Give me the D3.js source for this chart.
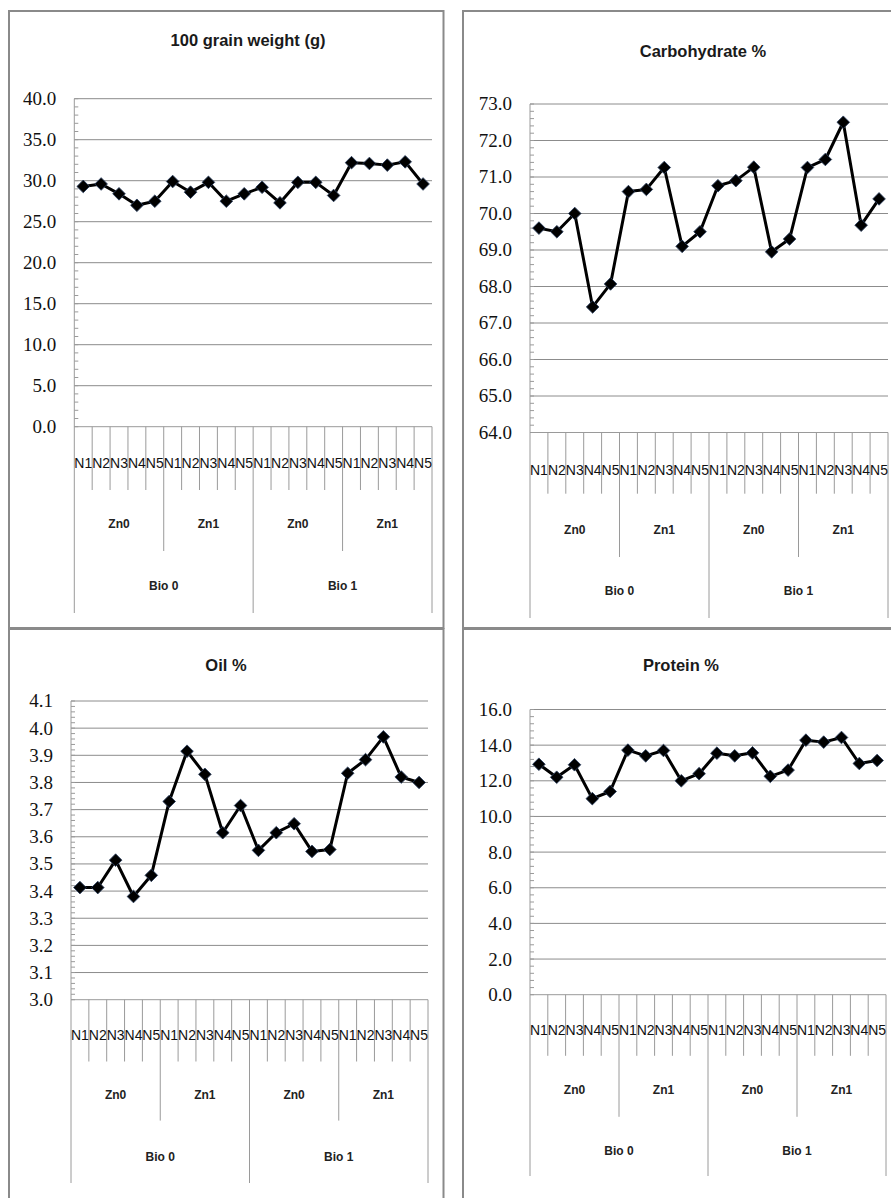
<!DOCTYPE html>
<html>
<head>
<meta charset="utf-8">
<script src="https://cdn.jsdelivr.net/npm/d3@7"></script>
<style>
	body { margin: 0; background: #fff; }
	svg { display: block; }
	.ylab { font-family: 'Liberation Serif', 'DejaVu Serif', serif; font-size: 19px; fill: #111; }
	.nlab { font-family: 'Liberation Sans', Arial, sans-serif; font-size: 14px; fill: #111; }
	.glab { font-family: 'Liberation Sans', Arial, sans-serif; font-size: 12px; font-weight: bold; fill: #222; }
	.title { font-family: 'Liberation Sans', Arial, sans-serif; font-size: 16.5px; font-weight: bold; fill: #1a1a1a; }
</style>
</head>
<body>
<div id="root"></div>
<script>
const nLevels	= ['N1', 'N2', 'N3', 'N4', 'N5'];
const znLevels	= ['Zn0', 'Zn1'];
const bioLevels	= ['Bio 0', 'Bio 1'];

const grainWeight	= [29.3, 29.6, 28.4, 27.0, 27.5, 29.9, 28.6, 29.8, 27.5, 28.4, 29.2, 27.3, 29.8, 29.8, 28.2, 32.2, 32.1, 31.9, 32.3, 29.6];
const carbohydrate	= [69.6, 69.5, 70.0, 67.44, 68.07, 70.6, 70.66, 71.26, 69.1, 69.5, 70.76, 70.9, 71.27, 68.95, 69.3, 71.26, 71.48, 72.5, 69.68, 70.4];
const oil			= [3.413, 3.413, 3.514, 3.38, 3.458, 3.73, 3.915, 3.83, 3.615, 3.715, 3.55, 3.615, 3.648, 3.546, 3.553, 3.834, 3.884, 3.968, 3.82, 3.80];
const protein		= [12.93, 12.2, 12.9, 11.0, 11.4, 13.72, 13.4, 13.7, 12.0, 12.4, 13.55, 13.4, 13.57, 12.25, 12.6, 14.28, 14.17, 14.43, 12.97, 13.14];

const titles	= ['100 grain weight (g)', 'Carbohydrate %', 'Oil %', 'Protein %'];
const yRanges	= [[0, 40, 5], [64, 73, 1], [3.0, 4.1, 0.1], [0, 16, 2]];

// category ids: bio / zn / n
const cats	= [];
bioLevels.forEach((b, bi) => znLevels.forEach((z, zi) => nLevels.forEach((n, ni) => cats.push({ id: bi + '-' + zi + '-' + ni, bi: bi, zi: zi, ni: ni, n: n }))));

// layout of each panel (pixels)
const panels	= [
	{ series: grainWeight, box: [9, 11, 434.5, 617], x0: 74.3, x1: 432, yTop: 98.7, yBot: 426.7, nEnd: 490, znEnd: 551, bioEnd: 613, nLab: 463, znLab: 523.5, bioLab: 585.5, tx: 248, ty: 40 },
	{ series: carbohydrate, box: [463, 11, 440, 617], x0: 530, x1: 888, yTop: 104, yBot: 432.5, nEnd: 493.7, znEnd: 557, bioEnd: 618, nLab: 470, znLab: 530, bioLab: 591, tx: 703, ty: 51.7 },
	{ series: oil, box: [9, 629, 434.5, 600], x0: 71, x1: 428, yTop: 701, yBot: 999.7, nEnd: 1061.5, znEnd: 1120.6, bioEnd: 1183, nLab: 1034.8, znLab: 1095, bioLab: 1156.8, tx: 226, ty: 665.6 },
	{ series: protein, box: [463, 629, 440, 600], x0: 530, x1: 886, yTop: 709.5, yBot: 994.7, nEnd: 1055.8, znEnd: 1116.8, bioEnd: 1176, nLab: 1030, znLab: 1090, bioLab: 1151, tx: 681, ty: 665.6 },
];

const svg	= d3.select('#root').append('svg')
	.attr('width', 891)
	.attr('height', 1198);

panels.forEach((p, i) => drawPanel(p, i));

function drawPanel(p, idx) {
	let g	= svg.append('g').attr('class', 'panel');
	let rng	= yRanges[idx];

	g.append('rect')
		.attr('x', p.box[0]).attr('y', p.box[1])
		.attr('width', p.box[2]).attr('height', p.box[3])
		.attr('fill', '#fff')
		.attr('stroke', '#8a8a8a')
		.attr('stroke-width', 2);

	g.append('text')
		.attr('class', 'title')
		.attr('x', p.tx).attr('y', p.ty)
		.attr('text-anchor', 'middle')
		.attr('dy', '0.35em')
		.text(titles[idx]);

	let x	= d3.scaleBand().domain(cats.map((o) => o.id)).range([p.x0, p.x1]);
	let y	= d3.scaleLinear().domain([rng[0], rng[1]]).range([p.yBot, p.yTop]);

	let nTicks	= Math.round((rng[1] - rng[0]) / rng[2]);
	let major	= d3.range(nTicks + 1).map((k) => rng[0] + k * rng[2]);
	let minor	= d3.range(nTicks * 5 + 1).map((k) => rng[0] + k * rng[2] / 5);

	// gridlines
	g.append('g').selectAll('line').data(major).enter().append('line')
		.attr('x1', p.x0).attr('x2', p.x1)
		.attr('y1', (d) => y(d)).attr('y2', (d) => y(d))
		.attr('stroke', (d, k) => (k == 0 ? '#9a9a9a' : '#8c8c8c'))
		.attr('stroke-width', 1);

	// minor ticks inside the value axis
	g.append('g').selectAll('line').data(minor).enter().append('line')
		.attr('x1', p.x0).attr('x2', p.x0 + 4)
		.attr('y1', (d) => y(d)).attr('y2', (d) => y(d))
		.attr('stroke', '#9a9a9a')
		.attr('stroke-width', 1);

	g.append('g').selectAll('text').data(major).enter().append('text')
		.attr('class', 'ylab')
		.attr('x', p.x0 - 18)
		.attr('y', (d) => y(d))
		.attr('dy', '0.34em')
		.attr('text-anchor', 'end')
		.text((d) => d.toFixed(1));

	// category boundaries, each one reaching down to its level
	let bounds	= d3.range(cats.length + 1).map((k) => {
		let bx	= p.x0 + k * x.bandwidth();
		let end	= (k % 10 == 0) ? p.bioEnd : (k % 5 == 0 ? p.znEnd : p.nEnd);
		return { x: bx, end: end };
	});

	g.append('g').selectAll('line').data(bounds).enter().append('line')
		.attr('x1', (d) => d.x).attr('x2', (d) => d.x)
		.attr('y1', (d, k) => (k == 0 ? p.yTop : p.yBot))
		.attr('y2', (d) => d.end)
		.attr('stroke', '#9a9a9a')
		.attr('stroke-width', 1);

	g.append('g').selectAll('text').data(cats).enter().append('text')
		.attr('class', 'nlab')
		.attr('x', (d) => x(d.id) + x.bandwidth() / 2)
		.attr('y', p.nLab)
		.attr('dy', '0.35em')
		.attr('text-anchor', 'middle')
		.text((d) => d.n);

	let znGroups	= [];
	bioLevels.forEach((b, bi) => znLevels.forEach((z, zi) => znGroups.push({ label: z, ids: cats.filter((o) => o.bi == bi && o.zi == zi).map((o) => o.id) })));
	let bioGroups	= bioLevels.map((b, bi) => ({ label: b, ids: cats.filter((o) => o.bi == bi).map((o) => o.id) }));

	let center	= (ids) => (x(ids[0]) + x(ids[ids.length - 1]) + x.bandwidth()) / 2;

	g.append('g').selectAll('text').data(znGroups).enter().append('text')
		.attr('class', 'glab')
		.attr('x', (d) => center(d.ids))
		.attr('y', p.znLab)
		.attr('dy', '0.35em')
		.attr('text-anchor', 'middle')
		.text((d) => d.label);

	g.append('g').selectAll('text').data(bioGroups).enter().append('text')
		.attr('class', 'glab')
		.attr('x', (d) => center(d.ids))
		.attr('y', p.bioLab)
		.attr('dy', '0.35em')
		.attr('text-anchor', 'middle')
		.text((d) => d.label);

	let pts	= p.series.map((v, k) => ({ x: x(cats[k].id) + x.bandwidth() / 2, y: y(v) }));

	g.append('path')
		.datum(pts)
		.attr('fill', 'none')
		.attr('stroke', '#000')
		.attr('stroke-width', 3)
		.attr('stroke-linejoin', 'round')
		.attr('d', d3.line().x((d) => d.x).y((d) => d.y));

	g.append('g').selectAll('path').data(pts).enter().append('path')
		.attr('d', d3.symbol(d3.symbolSquare, 80)())
		.attr('transform', (d) => 'translate(' + d.x + ',' + d.y + ') rotate(45)')
		.attr('fill', '#000')
		.attr('stroke', '#2a3f5f')
		.attr('stroke-width', 0.8);
}
</script>
</body>
</html>
